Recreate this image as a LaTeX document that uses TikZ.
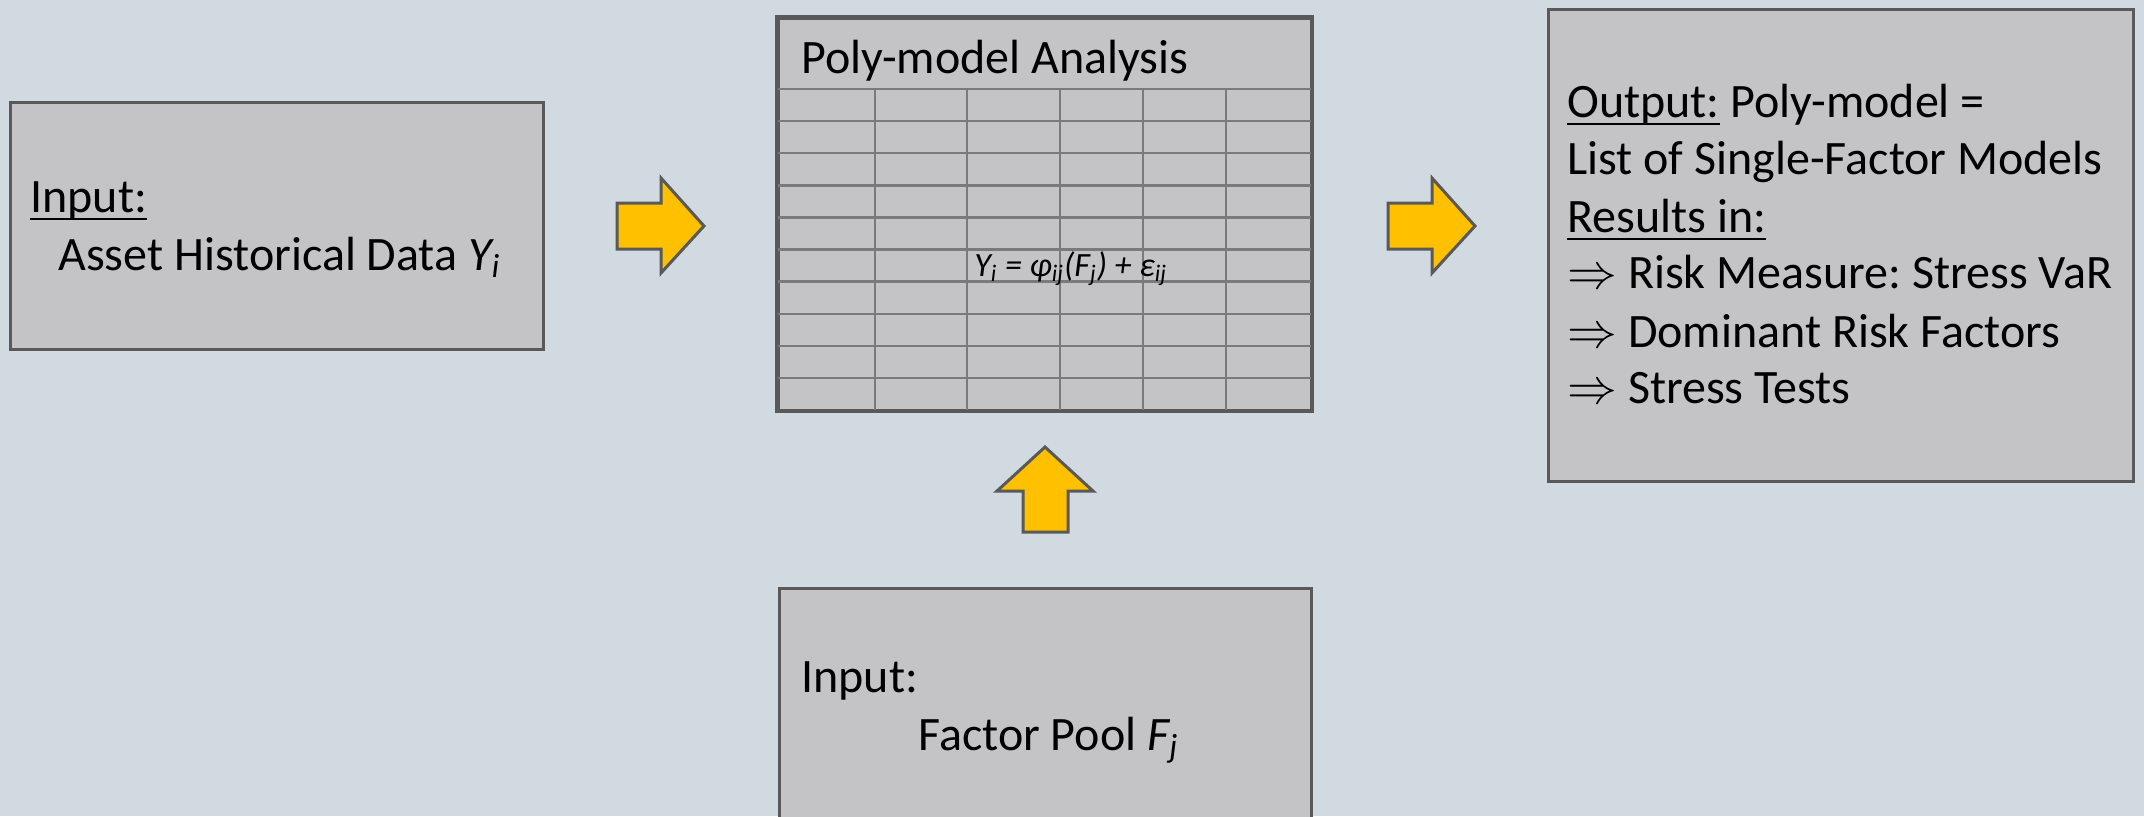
\documentclass[tikz,border=0pt]{standalone}
\usepackage{fontspec}
\setmainfont{Carlito}
\frenchspacing
\definecolor{bgcol}{HTML}{D2DAE1}
\definecolor{boxfill}{HTML}{C4C4C6}
\definecolor{edge}{HTML}{595959}
\definecolor{gridcol}{HTML}{7A7A7A}
\definecolor{arrowfill}{HTML}{FFC000}
% underline at a fixed depth below the baseline
\newcommand{\uln}[1]{\setbox0=\hbox{#1}\rlap{\rule[-4pt]{\wd0}{1.1pt}}\box0\relax}
\begin{document}
\begin{tikzpicture}[x=0.5pt,y=-0.5pt,
  box/.style={draw=edge, fill=boxfill, line width=1.5pt, inner sep=0pt},
  txt/.style={inner sep=0pt, anchor=base west, font=\fontsize{24}{28}\selectfont},
  formula/.style={inner sep=0pt, anchor=base west, font=\fontsize{17}{20}\selectfont\itshape},
  gridline/.style={draw=gridcol, line width=1.2pt},
  blockarrow/.style={draw=edge, fill=arrowfill, line width=1.5pt, line join=miter}]

\path[use as bounding box, fill=bgcol] (0,0) rectangle (2144,816);
\clip (0,0) rectangle (2144,816);

% input: asset data
\node[box, minimum width=266.5pt, minimum height=123.5pt] (assets) at (276.5,225.5) {};
\node[txt] (assetsA) at (30,212) {\uln{Input:}};
\node[txt] (assetsB) at (58,270) {Asset Historical Data \textit{Y\textsubscript{i}}};

% poly-model analysis table
\node[box, minimum width=266.5pt, minimum height=196pt] (table) at (1044.5,214) {};
\foreach \cx in {875,967,1060,1143,1226}
  \draw[gridline] (\cx,89) -- (\cx,410);
\foreach \k in {0,...,9}
  \draw[gridline] (778,89+32.1*\k) -- (1311,89+32.1*\k);
\draw[draw=edge, line width=1.4pt] (table.north west) rectangle (table.south east);
\node[txt] (title) at (801,73) {Poly-model Analysis};
\node[formula] (eq) at (974,276)
  {Y\textsubscript{i} = φ\textsubscript{ij}(F\textsubscript{j}) + ε\textsubscript{ij}};

% output
\node[box, minimum width=292.5pt, minimum height=236pt] (output) at (1840.5,245) {};
\node[txt] (outA) at (1567,117) {\uln{Output:} Poly-model =};
\node[txt] (outB) at (1567,174) {List of Single-Factor Models};
\node[txt] (outC) at (1567,232) {\uln{Results in:}};
\node[txt] (outD) at (1567,288) {$\Rightarrow$ Risk Measure: Stress VaR};
\node[txt] (outE) at (1567,347) {$\Rightarrow$ Dominant Risk Factors};
\node[txt] (outF) at (1567,403) {$\Rightarrow$ Stress Tests};

% input: factor pool
\node[box, minimum width=266pt, minimum height=121pt] (factors) at (1045,709) {};
\node[txt] (factorsA) at (801,692) {Input:};
\node[txt] (factorsB) at (918,750) {Factor Pool \textit{F\textsubscript{j}}};

% block arrows
\draw[blockarrow] (617,203) -- (661,203) -- (661,178) -- (704,226)
  -- (661,273) -- (661,249) -- (617,249) -- cycle;
\draw[blockarrow] (1388,203) -- (1432,203) -- (1432,178) -- (1475,226)
  -- (1432,273) -- (1432,249) -- (1388,249) -- cycle;
\draw[blockarrow] (1023,532) -- (1023,491) -- (997,491) -- (1045,447)
  -- (1093,491) -- (1068,491) -- (1068,532) -- cycle;
\end{tikzpicture}
\end{document}
